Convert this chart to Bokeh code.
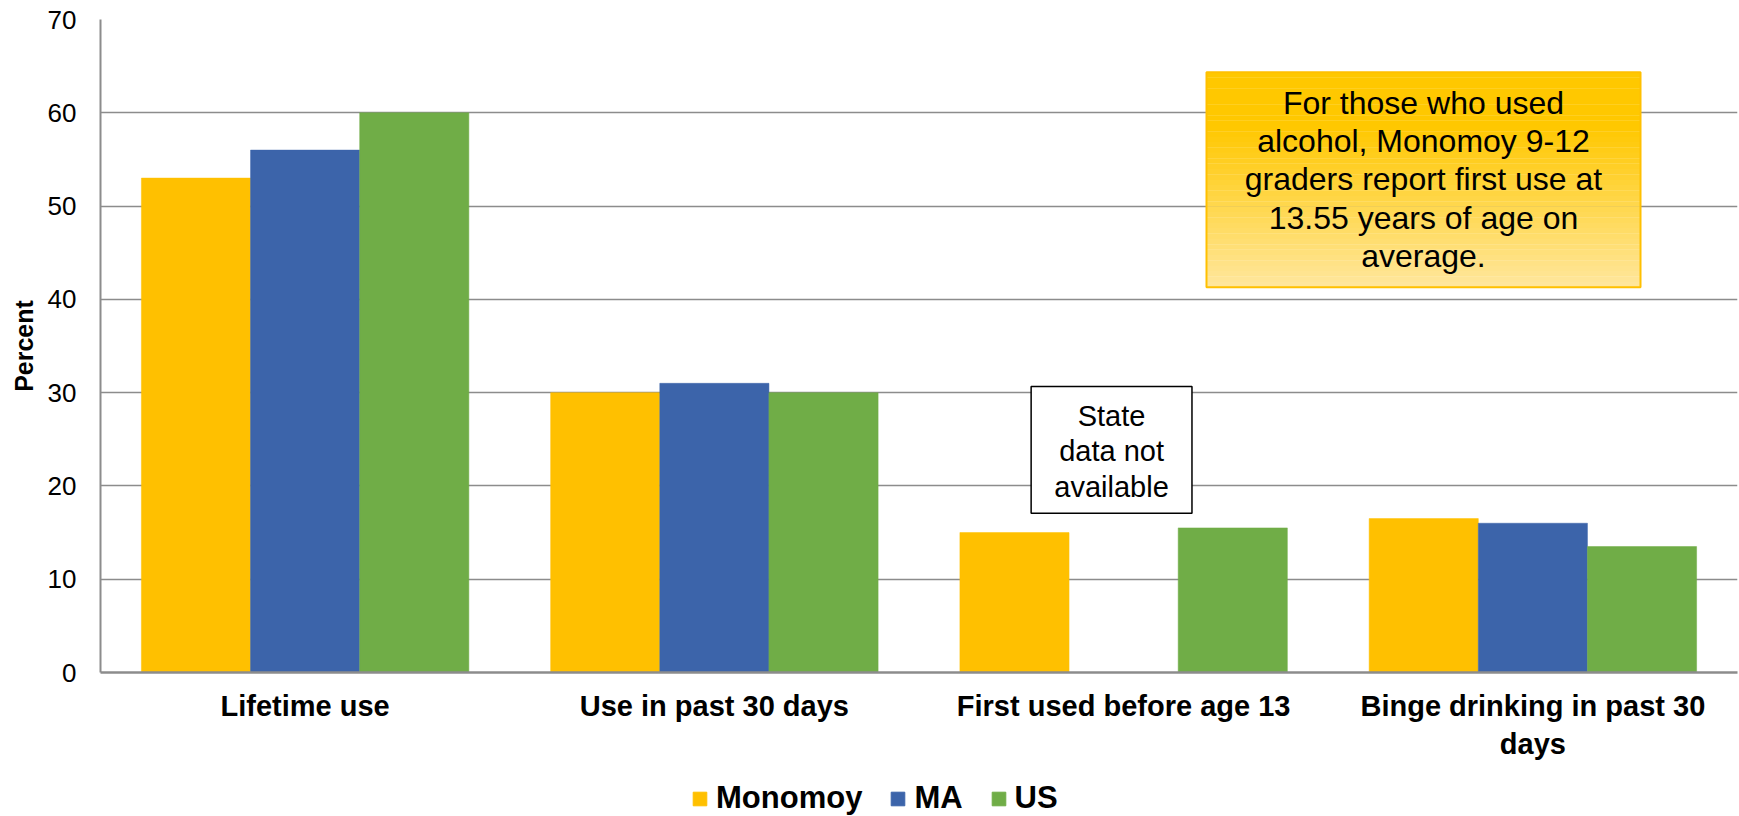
from bokeh.plotting import figure
from bokeh.layouts import column
from bokeh.models import Range1d, FixedTicker, Legend, LegendItem, ColumnDataSource
from bokeh.transform import dodge
from bokeh.core.properties import value
from bokeh.embed import file_html
from bokeh.resources import INLINE

# ---------------- data ----------------
categories = ["Lifetime use", "Use in past 30 days", "First used before age 13",
              "Binge drinking in past 30\ndays"]
series_names = ["Monomoy", "MA", "US"]
monomoy = [53, 30, 15, 16.5]
ma = [56, 31, float("nan"), 16]
us = [60, 30, 15.5, 13.5]
series_colors = ["#FFC000", "#3C64AA", "#70AD47"]
y_ticks = [0, 10, 20, 30, 40, 50, 60, 70]
note_text = ("For those who used\nalcohol, Monomoy 9-12\ngraders report first use at\n"
             "13.55 years of age on\naverage.")
state_text = "State\ndata not\navailable"

FONT = "Liberation Sans"
GRID = "#8c8c8c"

src = ColumnDataSource(dict(x=list(range(len(categories))),
                            Monomoy=monomoy, MA=ma, US=us))

p = figure(width=1739, height=770, output_backend="svg", toolbar_location=None,
           x_range=Range1d(-0.5, len(categories) - 0.5), y_range=Range1d(0, 70),
           min_border_left=100, min_border_right=2, min_border_top=19,
           min_border_bottom=98)
p.outline_line_color = None
p.background_fill_color = "white"
p.border_fill_color = "white"

bar_w = 0.2667
for j, name in enumerate(series_names):
    p.vbar(x=dodge("x", (j - 1) * bar_w, range=p.x_range), top=name,
           width=bar_w, source=src, fill_color=series_colors[j],
           line_color=series_colors[j], line_width=0.5)

# annotation box with gradient (top -> bottom)
nb_left, nb_right, nb_top, nb_bottom = 2.2025, 3.263, 64.35, 41.3
n_strips = 40
c0 = (255, 200, 0)
c1 = (255, 230, 155)
lefts, rights, tops, bottoms, cols = [], [], [], [], []
for k in range(n_strips):
    t = k / (n_strips - 1)
    tt = max(0.0, (t - 0.25) / 0.75)
    col = tuple(int(round(c0[i] + (c1[i] - c0[i]) * tt)) for i in range(3))
    h = (nb_top - nb_bottom) / n_strips
    lefts.append(nb_left); rights.append(nb_right)
    tops.append(nb_top - k * h); bottoms.append(nb_top - (k + 1) * h - 0.02)
    cols.append("#%02x%02x%02x" % col)
p.quad(left=lefts, right=rights, top=tops, bottom=bottoms, fill_color=cols,
       line_color=None)
p.quad(left=[nb_left], right=[nb_right], top=[nb_top], bottom=[nb_bottom],
       fill_color=None, line_color="#FFC000", line_width=2)
p.text(x=[(nb_left + nb_right) / 2], y=[52.86], text=[note_text],
       text_font=value(FONT), text_font_size="32px", text_align="center",
       text_baseline="middle", text_line_height=1.06, text_color="black")

# "State data not available" box
sb_left, sb_right, sb_top, sb_bottom = 1.774, 2.167, 30.65, 17.06
p.quad(left=[sb_left], right=[sb_right], top=[sb_top], bottom=[sb_bottom],
       fill_color="white", line_color="black", line_width=1.5)
p.text(x=[(sb_left + sb_right) / 2], y=[23.7], text=[state_text],
       text_font=value(FONT), text_font_size="29px", text_align="center",
       text_baseline="middle", text_line_height=1.1, text_color="black")

# axes
p.xgrid.grid_line_color = None
p.ygrid.grid_line_color = GRID
p.ygrid.grid_line_width = 1.5
p.yaxis.ticker = FixedTicker(ticks=y_ticks)
p.yaxis.major_tick_line_color = None
p.yaxis.minor_tick_line_color = None
p.yaxis.axis_line_color = GRID
p.yaxis.axis_line_width = 2
p.yaxis.major_label_text_font = FONT
p.yaxis.major_label_text_font_size = "26px"
p.yaxis.major_label_text_color = "black"
p.yaxis.major_label_standoff = 18
p.yaxis.axis_label = "Percent"
p.yaxis.axis_label_text_font = FONT
p.yaxis.axis_label_text_font_size = "25px"
p.yaxis.axis_label_text_font_style = "bold"
p.yaxis.axis_label_text_color = "black"
p.yaxis.axis_label_standoff = 7

p.xaxis.ticker = FixedTicker(ticks=list(range(len(categories))))
p.xaxis.major_label_overrides = {i: c for i, c in enumerate(categories)}
p.xaxis.major_tick_line_color = None
p.xaxis.minor_tick_line_color = None
p.xaxis.axis_line_color = GRID
p.xaxis.axis_line_width = 2.5
p.xaxis.major_label_text_font = FONT
p.xaxis.major_label_text_font_size = "29px"
p.xaxis.major_label_text_font_style = "bold"
p.xaxis.major_label_text_color = "black"
p.xaxis.major_label_standoff = 11

# legend strip below the chart (its renderers are hidden; only the legend shows)
lg = figure(width=1739, height=46, output_backend="svg", toolbar_location=None,
            x_range=Range1d(-0.5, len(categories) - 0.5), y_range=Range1d(0, 70),
            min_border_left=100, min_border_right=2, min_border_top=0,
            min_border_bottom=0)
lg.axis.visible = False
lg.grid.visible = False
lg.outline_line_color = None
leg_renderers = []
for j, name in enumerate(series_names):
    r = lg.vbar(x=dodge("x", (j - 1) * bar_w, range=lg.x_range), top=name,
                width=bar_w, source=src, fill_color=series_colors[j],
                line_color=series_colors[j], visible=False)
    leg_renderers.append(r)
legend = Legend(items=[LegendItem(label=n, renderers=[r]) for n, r in zip(series_names, leg_renderers)],
                location=(591, 0), orientation="horizontal",
                glyph_width=17, glyph_height=17, label_standoff=8, spacing=27,
                padding=0, margin=0, border_line_color=None, background_fill_alpha=0,
                inactive_fill_alpha=0,
                label_text_font=FONT, label_text_font_size="31px",
                label_text_font_style="bold", label_text_color="black")
lg.add_layout(legend)

open("out.html", "w").write(file_html(column(p, lg, spacing=0), INLINE))
